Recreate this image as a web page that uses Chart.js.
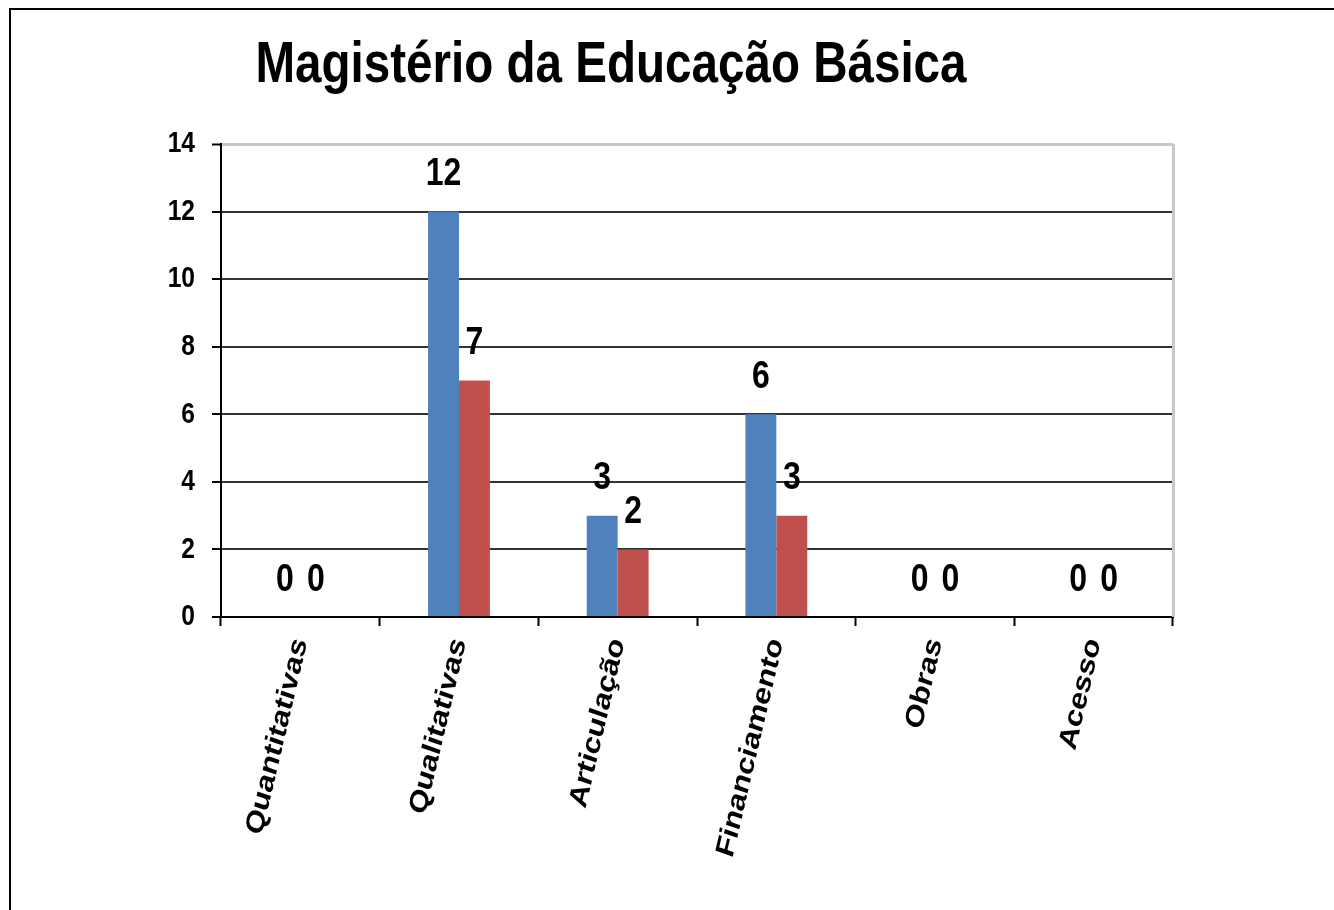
<!DOCTYPE html>
<html><head><meta charset="utf-8">
<script src="https://cdn.jsdelivr.net/npm/chart.js@4.4.1/dist/chart.umd.min.js"></script>
<style>html,body{margin:0;padding:0;background:#fff;overflow:hidden}#wrap{width:1334px;height:910px;position:relative}</style>
</head><body><div id="wrap"><canvas id="c" width="1334" height="910"></canvas></div>
<script>
const chartTitle = 'Magistério da Educação Básica';
const categories = ['Quantitativas','Qualitativas','Articulação','Financiamento','Obras','Acesso'];
const seriesA = [0,12,3,6,0,0];
const seriesB = [0,7,2,3,0,0];
const yTicks = [0,2,4,6,8,10,12,14];
const FONT = '"Liberation Sans", Arial, sans-serif';
const SX = 0.82; // horizontal compression of the whole text look

const deco = {
  id: 'deco',
  beforeDraw(chart) {
    const ctx = chart.ctx;
    ctx.save();
    ctx.fillStyle = '#fff';
    ctx.fillRect(0, 0, chart.width, chart.height);
    ctx.strokeStyle = '#000';
    ctx.lineWidth = 2;
    ctx.strokeRect(10, 9, chart.width + 20, chart.height + 20);
    ctx.restore();
    if (!ctx._origFillText) {
      const orig = ctx.fillText;
      ctx._origFillText = orig;
      ctx.fillText = function (t, x, y, mw) {
        const m = this.getTransform();
        const px = m.a * x + m.c * y + m.e, py = m.b * x + m.d * y + m.f;
        this.save();
        this.setTransform(1, 0, 0, 1, 0, 0);
        this.translate(px, py);
        this.scale(SX, 1);
        this.translate(-px, -py);
        this.transform(m.a, m.b, m.c, m.d, m.e, m.f);
        if (mw !== undefined) orig.call(this, t, x, y, mw / SX);
        else orig.call(this, t, x, y);
        this.restore();
      };
    }
  },
  afterDatasetsDraw(chart) {
    const ctx = chart.ctx, a = chart.chartArea;
    ctx.save();
    ctx.strokeStyle = '#c8c8c8';
    ctx.lineWidth = 3;
    ctx.beginPath();
    ctx.moveTo(a.right + 0.5, a.top);
    ctx.lineTo(a.right + 0.5, a.bottom);
    ctx.stroke();
    ctx.fillStyle = '#000';
    ctx.font = 'bold 39px ' + FONT;
    ctx.textAlign = 'center';
    ctx.textBaseline = 'middle';
    chart.data.datasets.forEach((ds, i) => {
      const meta = chart.getDatasetMeta(i);
      meta.data.forEach((bar, j) => {
        ctx.fillText(String(ds.data[j]), bar.x, bar.y - 37);
      });
    });
    ctx.restore();
  },
  afterDraw(chart) {
    const ctx = chart.ctx;
    ctx.save();
    ctx.fillStyle = '#000';
    ctx.font = 'bold 58px ' + FONT;
    ctx.textAlign = 'center';
    ctx.textBaseline = 'alphabetic';
    ctx.fillText(chartTitle, 611, 82);
    ctx.restore();
  }
};

new Chart(document.getElementById('c'), {
  type: 'bar',
  data: {
    labels: categories,
    datasets: [
      { data: seriesA, backgroundColor: '#4F81BD', categoryPercentage: 0.39, barPercentage: 1 },
      { data: seriesB, backgroundColor: '#C0504D', categoryPercentage: 0.39, barPercentage: 1 }
    ]
  },
  options: {
    responsive: false,
    animation: false,
    devicePixelRatio: 1,
    layout: { padding: { top: 144, right: 161, bottom: 0, left: 0 } },
    plugins: { legend: { display: false }, tooltip: { enabled: false }, title: { display: false } },
    scales: {
      x: {
        grid: { offset: true, drawOnChartArea: false, tickLength: 9, tickColor: '#000', tickWidth: 2 },
        border: { color: '#000', width: 2 },
        ticks: { color: '#000', font: { family: FONT, size: 32, weight: 'bold' }, minRotation: 74, maxRotation: 74, padding: 8, autoSkip: false },
        afterFit(s) { s.height = 293; }
      },
      y: {
        min: 0, max: 14,
        afterBuildTicks(s) { s.ticks = yTicks.map(v => ({ value: v })); },
        grid: {
          color: c => (c.tick && c.tick.value === 14) ? '#c8c8c8' : '#333',
          lineWidth: c => (c.tick && c.tick.value === 14) ? 3 : 2,
          tickLength: 9, tickColor: '#000', tickWidth: 2
        },
        border: { color: '#000', width: 2 },
        ticks: { color: '#000', font: { family: FONT, size: 30, weight: 'bold' }, padding: 17 },
        afterFit(s) { s.width = 221; }
      }
    }
  },
  plugins: [deco]
});
</script></body></html>
